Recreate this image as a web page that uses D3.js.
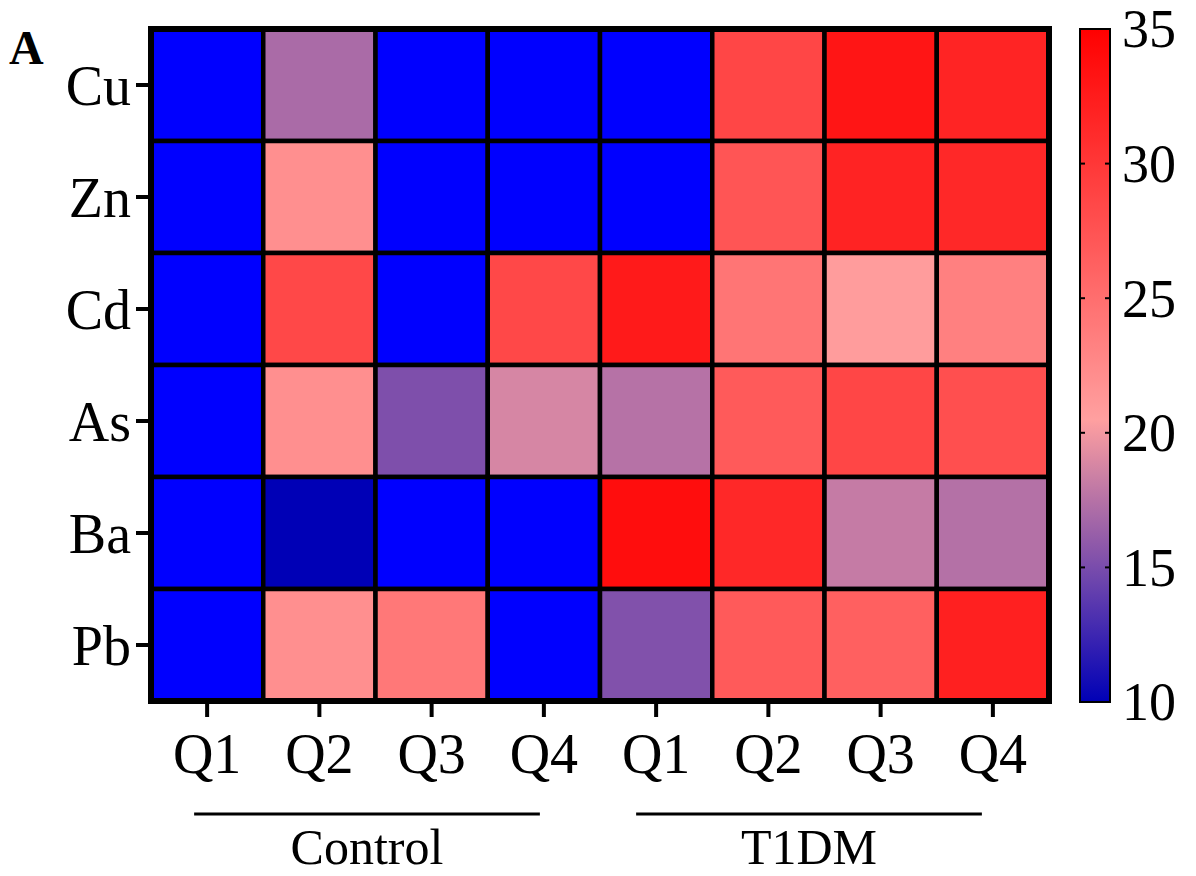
<!DOCTYPE html>
<html><head><meta charset="utf-8">
<script src="https://cdn.jsdelivr.net/npm/d3@7"></script>
<style>body{margin:0;background:#fff}text{font-family:"Liberation Serif","DejaVu Serif",serif;fill:#000}</style>
</head><body>
<svg id="c" width="1196" height="876"></svg>
<script>
// ---- data ----
const rows = ["Cu", "Zn", "Cd", "As", "Ba", "Pb"];
const cols = ["Control Q1", "Control Q2", "Control Q3", "Control Q4", "T1DM Q1", "T1DM Q2", "T1DM Q3", "T1DM Q4"];
const colLabels = ["Q1", "Q2", "Q3", "Q4", "Q1", "Q2", "Q3", "Q4"];
const groupNames = ["Control", "T1DM"];
const groupFirst = [0, 4];
const groupLast = [3, 7];
// values below the colour-scale minimum (10) are shown in pure blue
const Cu = [8, 17.0, 8, 8, 8, 28.7, 33.1, 31.7];
const Zn = [8, 22.0, 8, 8, 8, 27.3, 31.8, 31.4];
const Cd = [8, 28.5, 8, 28.5, 32.6, 24.4, 20.9, 23.4];
const As = [8, 22.0, 15.2, 18.8, 17.5, 26.8, 28.7, 27.8];
const Ba = [8, 10.0, 8, 8, 33.8, 31.4, 18.1, 17.4];
const Pb = [8, 22.0, 24.1, 8, 15.3, 26.8, 26.3, 32.1];
const seriesValues = [Cu, Zn, Cd, As, Ba, Pb];
const scaleTicks = [10, 15, 20, 25, 30, 35];

// ---- layout ----
const svg = d3.select("#c");
const x = d3.scaleBand().domain(cols).range([151, 1049]);
const y = d3.scaleBand().domain(rows).range([29, 701]);
const color = d3.scaleLinear().domain([10, 20.5, 35]).range(["#0000b6", "#ffa0a0", "#ff0000"]).clamp(true);
const fill = v => v < 10 ? "#0000ff" : color(v);

const cells = [];
rows.forEach((r, i) => cols.forEach((c, j) => cells.push({r, c, v: seriesValues[i][j]})));

svg.append("g").selectAll("rect").data(cells).join("rect")
  .attr("x", d => x(d.c)).attr("y", d => y(d.r))
  .attr("width", x.bandwidth()).attr("height", y.bandwidth())
  .attr("fill", d => fill(d.v))
  .attr("stroke", "#000").attr("stroke-width", 4.5);

svg.append("rect").attr("x", 151).attr("y", 29).attr("width", 898).attr("height", 672)
  .attr("fill", "none").attr("stroke", "#000").attr("stroke-width", 6);

// y axis
const yAxis = svg.append("g").attr("transform", "translate(148,0)")
  .call(d3.axisLeft(y).tickSize(12).tickPadding(5));
yAxis.select(".domain").remove();
yAxis.selectAll(".tick line").attr("stroke", "#000").attr("stroke-width", 4);
yAxis.selectAll(".tick text").attr("font-size", 56).attr("dy", "0.36em")
  .style("font-family", '"Liberation Serif", serif');

// x axis
const xAxis = svg.append("g").attr("transform", "translate(0,704)")
  .call(d3.axisBottom(x).tickSize(13).tickPadding(16).tickFormat((d, i) => colLabels[i]));
xAxis.select(".domain").remove();
xAxis.selectAll(".tick line").attr("stroke", "#000").attr("stroke-width", 4);
xAxis.selectAll(".tick text").attr("font-size", 56).attr("dy", "0.71em")
  .style("font-family", '"Liberation Serif", serif');

// group lines and labels
const startOff = [-13, -20];
const endOff = [-4, -11];
groupNames.forEach((g, k) => {
  const x0 = x(cols[groupFirst[k]]) + x.bandwidth() / 2 + startOff[k];
  const x1 = x(cols[groupLast[k]]) + x.bandwidth() / 2 + endOff[k];
  svg.append("line").attr("x1", x0).attr("x2", x1).attr("y1", 814).attr("y2", 814)
    .attr("stroke", "#000").attr("stroke-width", 3);
  svg.append("text").attr("x", (x0 + x1) / 2).attr("y", 864).attr("text-anchor", "middle")
    .attr("font-size", 50).text(g);
});

// panel letter
svg.append("text").attr("x", 9).attr("y", 64).attr("font-size", 48).attr("font-weight", "bold").text("A");

// colour bar
const cb = d3.scaleLinear().domain([10, 35]).range([702, 29]);
const defs = svg.append("defs");
const grad = defs.append("linearGradient").attr("id", "cbg").attr("x1", 0).attr("y1", 1).attr("x2", 0).attr("y2", 0);
d3.range(10, 35.01, 0.5).forEach(v => grad.append("stop").attr("offset", (v - 10) / 25).attr("stop-color", color(v)));
svg.append("rect").attr("x", 1080).attr("y", cb(35)).attr("width", 30).attr("height", cb(10) - cb(35))
  .attr("fill", "url(#cbg)").attr("stroke", "#000").attr("stroke-width", 2);
const cbt = svg.append("g");
cbt.selectAll("line.l").data(scaleTicks.slice(1, -1)).join("line").attr("class", "l")
  .attr("x1", 1080).attr("x2", 1085).attr("y1", d => cb(d)).attr("y2", d => cb(d))
  .attr("stroke", "#000").attr("stroke-width", 2);
cbt.selectAll("line.r").data(scaleTicks.slice(1, -1)).join("line").attr("class", "r")
  .attr("x1", 1105).attr("x2", 1110).attr("y1", d => cb(d)).attr("y2", d => cb(d))
  .attr("stroke", "#000").attr("stroke-width", 2);
cbt.selectAll("text").data(scaleTicks).join("text")
  .attr("x", 1122).attr("y", d => cb(d)).attr("dy", "0.34em")
  .attr("font-size", 54).text(d => d);
</script>
</body></html>
